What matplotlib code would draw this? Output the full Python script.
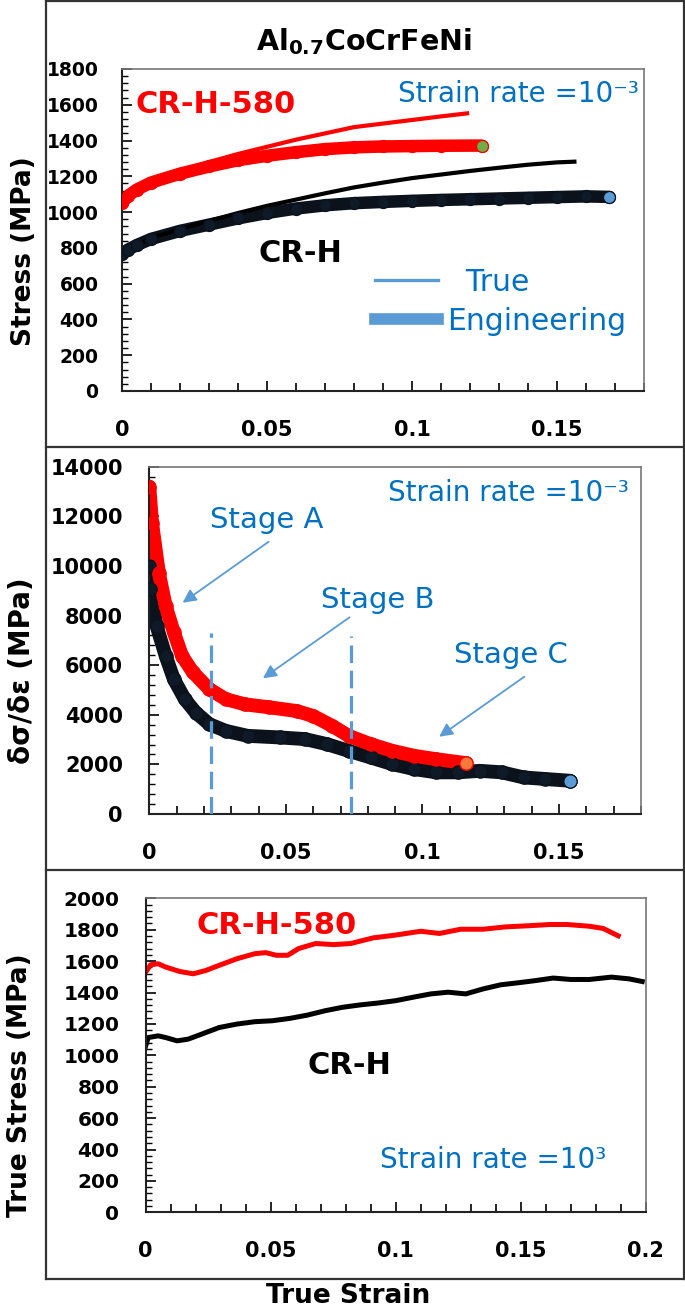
import matplotlib
matplotlib.use("Agg")
import matplotlib.pyplot as plt
from matplotlib.lines import Line2D
from matplotlib.ticker import MultipleLocator, FuncFormatter

plt.rcParams["font.family"] = ["DejaVu Sans"]
plt.rcParams["font.weight"] = "bold"
plt.rcParams["mathtext.fontset"] = "dejavusans"

RED, BLACK, BLUE, LBLUE = "#ff0000", "#000000", "#0070c0", "#5b9bd5"

# ---- quasi-static stress-strain (strain rate 1e-3) ----------------------------
eng_strain_580 = [0, 0.002, 0.005, 0.01, 0.02, 0.03, 0.04, 0.05, 0.06, 0.07, 0.08, 0.09, 0.10, 0.11, 0.124]
eng_stress_580 = [1050, 1090, 1125, 1165, 1215, 1255, 1290, 1315, 1335, 1352, 1362, 1367, 1369, 1371, 1372]
true_strain_580 = [0, 0.01, 0.02, 0.03, 0.04, 0.05, 0.06, 0.07, 0.08, 0.09, 0.10, 0.11, 0.119]
true_stress_580 = [1050, 1170, 1230, 1280, 1325, 1365, 1405, 1440, 1475, 1495, 1515, 1535, 1552]

eng_strain_h = [0, 0.002, 0.005, 0.01, 0.02, 0.03, 0.04, 0.05, 0.06, 0.07, 0.08, 0.09, 0.10,
                0.11, 0.12, 0.13, 0.14, 0.15, 0.16, 0.168]
eng_stress_h = [765, 790, 815, 850, 895, 930, 965, 995, 1020, 1038, 1050, 1057, 1063,
                1068, 1072, 1076, 1080, 1084, 1088, 1085]
true_strain_h = [0, 0.01, 0.02, 0.03, 0.04, 0.05, 0.06, 0.07, 0.08, 0.09, 0.10, 0.11, 0.12,
                 0.13, 0.14, 0.15, 0.156]
true_stress_h = [765, 855, 905, 950, 995, 1035, 1070, 1105, 1138, 1165, 1190, 1210, 1230,
                 1248, 1265, 1278, 1282]

# ---- work-hardening rate ------------------------------------------------------
hr_strain_580 = [0, 0.001, 0.0035, 0.006, 0.009, 0.012, 0.016, 0.022, 0.028, 0.035, 0.044, 0.054,
                 0.060, 0.067, 0.073, 0.081, 0.089, 0.097, 0.105, 0.116]
hr_580 = [13200, 11730, 9720, 8380, 7320, 6370, 5710, 5030, 4630, 4420, 4300, 4150,
          3950, 3550, 3150, 2815, 2545, 2345, 2210, 2050]
hr_strain_h = [0, 0.0003, 0.0027, 0.006, 0.009, 0.013, 0.017, 0.022, 0.028, 0.036, 0.048, 0.057,
               0.065, 0.073, 0.081, 0.089, 0.097, 0.105, 0.113, 0.121, 0.129, 0.137, 0.145, 0.154]
hr_h = [10000, 9050, 7570, 6370, 5430, 4630, 4090, 3620, 3350, 3150, 3085, 3020,
        2815, 2545, 2280, 2010, 1810, 1680, 1680, 1740, 1680, 1475, 1410, 1340]
stage_bounds = [0.0225, 0.0738]
stage_tops = [7310, 7170]
stage_names = ["Stage A", "Stage B", "Stage C"]
stage_text_xy = [(0.0221, 11850), (0.0629, 8625), (0.1116, 6410)]
stage_arrow_tail = [(0.0437, 10976), (0.0733, 7928), (0.1373, 5534)]
stage_arrow_head = [(0.0122, 8517), (0.0416, 5470), (0.1061, 3116)]

# ---- dynamic true stress (strain rate 1e3) -----------------------------------
dyn_strain_580 = [0, 0.002, 0.005, 0.008, 0.0136, 0.019, 0.024, 0.0294, 0.0365, 0.0436, 0.048,
                  0.0523, 0.0568, 0.0612, 0.068, 0.0752, 0.082, 0.091, 0.0996, 0.110, 0.1175,
                  0.126, 0.135, 0.144, 0.153, 0.1616, 0.1686, 0.1775, 0.183, 0.1863, 0.189]
dyn_580 = [1530, 1577, 1583, 1562, 1534, 1519, 1540, 1573, 1615, 1647, 1654,
           1637, 1637, 1680, 1712, 1705, 1712, 1748, 1765, 1790, 1776,
           1803, 1803, 1818, 1825, 1833, 1833, 1822, 1808, 1782, 1761]
dyn_strain_h = [0, 0.001, 0.005, 0.008, 0.0126, 0.017, 0.0224, 0.0294, 0.0365, 0.0436, 0.0506,
                0.0576, 0.0647, 0.0718, 0.0788, 0.0858, 0.0929, 0.10, 0.107, 0.114, 0.121,
                0.128, 0.135, 0.142, 0.149, 0.156, 0.163, 0.170, 0.1775, 0.1863, 0.1933, 0.1986]
dyn_h = [1060, 1113, 1124, 1113, 1092, 1103, 1135, 1177, 1199, 1214, 1220,
         1235, 1256, 1284, 1306, 1321, 1333, 1348, 1370, 1391, 1402,
         1391, 1423, 1449, 1462, 1476, 1492, 1483, 1483, 1498, 1487, 1470]

W, H = 685, 1310
fig = plt.figure(figsize=(W / 100, H / 100), dpi=100)


def rect(l, t, r, b):
    return [l / W, 1 - b / H, (r - l) / W, (b - t) / H]


def style(ax, xmax, ymax, ymajor, yminor, ysize, ypad):
    ax.set_xlim(0, xmax)
    ax.set_ylim(0, ymax)
    ax.xaxis.set_major_locator(MultipleLocator(0.05))
    ax.xaxis.set_minor_locator(MultipleLocator(0.01))
    ax.xaxis.set_major_formatter(FuncFormatter(lambda v, p: f"{v:g}"))
    ax.yaxis.set_major_locator(MultipleLocator(ymajor))
    ax.yaxis.set_minor_locator(MultipleLocator(yminor))
    ax.tick_params(axis="x", which="major", direction="in", length=7, width=1.2, pad=21,
                   labelsize=15)
    ax.tick_params(axis="x", which="minor", direction="in", length=6, width=1.2)
    ax.tick_params(axis="y", which="major", direction="in", length=7, width=1.2, pad=ypad,
                   labelsize=ysize)
    ax.tick_params(axis="y", which="minor", direction="in", length=4.5, width=1)
    for s in ["left", "bottom"]:
        ax.spines[s].set_color("#222222")
        ax.spines[s].set_linewidth(1.5)
    for s in ["top", "right"]:
        ax.spines[s].set_color("#777777")
        ax.spines[s].set_linewidth(1.2)


def band(ax, x, y, color, face, end_face, lw):
    # dense Excel-style marker series: thick band plus the final marker
    ax.plot(x, y, color=color, lw=lw, solid_capstyle="round", solid_joinstyle="round", zorder=2)
    ax.plot(x, y, ls="none", marker="o", ms=lw * 0.95, mfc=face, mec=color, mew=1.0, zorder=3)
    ax.plot(x[-1], y[-1], ls="none", marker="o", ms=lw * 0.95, mfc=end_face, mec=color,
            mew=0.8, zorder=4)


# ---- panel 1: quasi-static engineering vs true --------------------------------
ax = fig.add_axes(rect(122, 69, 644, 391))
band(ax, eng_strain_580, eng_stress_580, RED, RED, "#70ad47", 9)
band(ax, eng_strain_h, eng_stress_h, "#0b121c", "#0f1a28", LBLUE, 9)
ax.plot(true_strain_580, true_stress_580, color=RED, lw=3, zorder=2)
ax.plot(true_strain_h, true_stress_h, color=BLACK, lw=3, zorder=2)
style(ax, 0.18, 1800, 200, 40, 13.5, 17)
ax.text(0.0045, 1600, "CR-H-580", color=RED, fontsize=22, ha="left", va="center")
ax.text(0.0469, 770, "CR-H", color=BLACK, fontsize=22, ha="left", va="center")
ax.text(0.0951, 1617, "Strain rate =10\u207b\u00b3", color=BLUE, fontsize=20,
        fontweight="normal", ha="left", va="baseline")
handles = [Line2D([], [], color=LBLUE, lw=2.4), Line2D([], [], color=LBLUE, lw=8.4)]
ax.legend(handles, ["  True", "Engineering"], loc="upper left", bbox_to_anchor=(0.485, 0.3835),
          frameon=False, prop={"size": 21.5, "weight": "normal"}, labelcolor=BLUE,
          handlelength=2.1, handletextpad=0.3, labelspacing=0.34, borderpad=0,
          borderaxespad=0)
fig.text(364 / W, 1 - 42 / H, r"$\mathbf{Al_{0.7}CoCrFeNi}$", fontsize=20.5, ha="center",
         va="center")
fig.text(24 / W, 1 - 251 / H, "Stress (MPa)", fontsize=19, rotation=90, ha="center",
         va="center")

# ---- panel 2: work-hardening rate --------------------------------------------
ax = fig.add_axes(rect(149.3, 466.7, 641, 814))
band(ax, hr_strain_h, hr_h, "#0b121c", "#0f1a28", LBLUE, 10)
band(ax, hr_strain_580, hr_580, RED, RED, "#f4793b", 10)
ax.vlines(stage_bounds, 0, stage_tops, colors=LBLUE, lw=2.3, linestyles=(0, (5.5, 2.4)),
          zorder=5)
for name, txy, tail, head in zip(stage_names, stage_text_xy, stage_arrow_tail, stage_arrow_head):
    ax.text(txy[0], txy[1], name, color=BLUE, fontsize=21, fontweight="normal", ha="left",
            va="center")
    ax.annotate("", xy=head, xytext=tail,
                arrowprops=dict(arrowstyle="-|>", color=LBLUE, lw=1.3, mutation_scale=20,
                                shrinkA=0, shrinkB=0))
style(ax, 0.18, 14000, 2000, 400, 15, 19)
ax.text(0.1757, 12926, "Strain rate =10\u207b\u00b3", color=BLUE, fontsize=20,
        fontweight="normal", ha="right", va="center")
fig.text(22 / W, 1 - 671 / H, "\u03b4\u03c3/\u03b4\u03b5 (MPa)", fontsize=20, rotation=90,
         ha="center", va="center")

# ---- panel 3: dynamic true stress --------------------------------------------
ax = fig.add_axes(rect(145.7, 898.3, 645.7, 1212.3))
ax.plot(dyn_strain_580, dyn_580, color=RED, lw=3.6)
ax.plot(dyn_strain_h, dyn_h, color=BLACK, lw=3.6)
style(ax, 0.2, 2000, 200, 40, 14.5, 19)
ax.text(0.0203, 1829, "CR-H-580", color=RED, fontsize=22, ha="left", va="center")
ax.text(0.0649, 932, "CR-H", color=BLACK, fontsize=22, ha="left", va="center")
ax.text(0.0937, 335, "Strain rate =10\u00b3", color=BLUE, fontsize=20, fontweight="normal",
        ha="left", va="center")
fig.text(20 / W, 1 - 1085 / H, "True Stress (MPa)", fontsize=19, rotation=90, ha="center",
         va="center")
fig.text(348 / W, 1 - 1296 / H, "True Strain", fontsize=19, ha="center", va="center")


# ---- outer panel frames -------------------------------------------------------
def fline(x0, y0, x1, y1):
    fig.add_artist(Line2D([x0 / W, x1 / W], [1 - y0 / H, 1 - y1 / H], color="#333333", lw=1.6))


fline(46, 1, 683.5, 1)
fline(46, 0, 46, 1279)
fline(683.5, 0, 683.5, 1279)
for yy in (446.5, 870, 1279):
    fline(46, yy, 683.5, yy)

fig.savefig("out.png", dpi=100)
